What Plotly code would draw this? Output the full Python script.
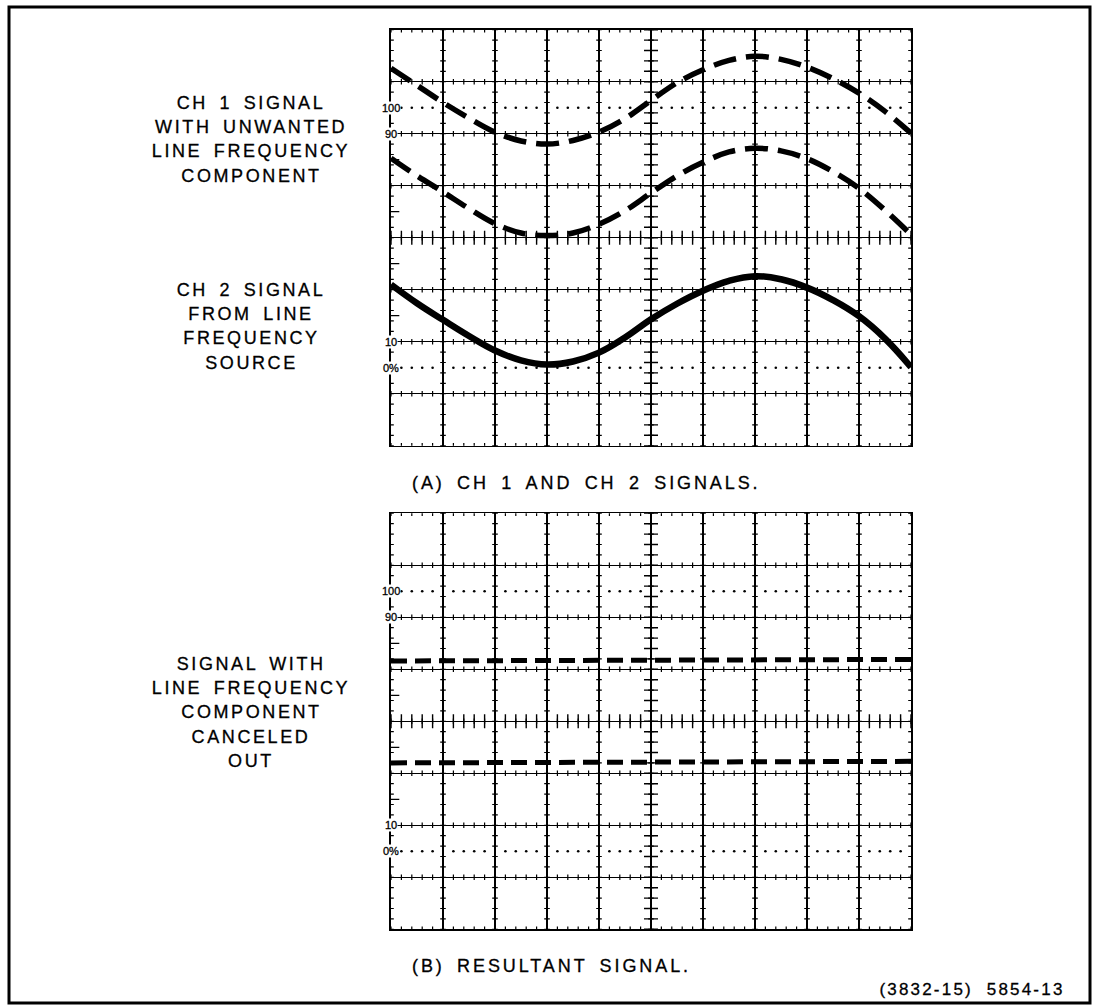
import numpy as np
import plotly.graph_objects as go

# ---------------- data (graticule divisions) ----------------
x_div = [0, 0.5, 1, 1.5, 2, 2.5, 3, 3.5, 4, 4.5, 5, 5.5, 6, 6.5, 7, 7.5, 8, 8.5, 9, 9.5, 10]
ch1_top = [7.26, 6.93, 6.60, 6.30, 6.03, 5.86, 5.80, 5.87, 6.03, 6.29, 6.64, 6.98, 7.23, 7.41, 7.49,
           7.43, 7.28, 7.06, 6.78, 6.43, 6.01]
ch1_bottom = [5.53, 5.19, 4.88, 4.56, 4.27, 4.09, 4.04, 4.09, 4.26, 4.52, 4.86, 5.19, 5.45, 5.65, 5.72,
              5.67, 5.52, 5.27, 4.95, 4.53, 4.06]
ch2 = [3.10, 2.74, 2.42, 2.11, 1.83, 1.64, 1.56, 1.62, 1.79, 2.08, 2.43, 2.73, 2.98, 3.17, 3.26,
       3.20, 3.04, 2.80, 2.49, 2.06, 1.51]
res_x = [0, 10]
res_top = [5.16, 5.19]
res_bottom = [3.20, 3.23]

ref_labels = ["100", "90", "10", "0%"]
ref_levels = [6.5, 6.0, 2.0, 1.5]

text_a = ["CH 1 SIGNAL", "WITH UNWANTED", "LINE FREQUENCY", "COMPONENT"]
text_b = ["CH 2 SIGNAL", "FROM LINE", "FREQUENCY", "SOURCE"]
text_c = ["SIGNAL WITH", "LINE FREQUENCY", "COMPONENT", "CANCELED", "OUT"]
caption_a = "(A) CH 1 AND CH 2 SIGNALS."
caption_b = "(B) RESULTANT SIGNAL."
footer = "(3832-15)  5854-13"

# ---------------- layout geometry ----------------
W, H = 1094, 1007
def px(v):
    return v / W
def py(v):
    return 1 - v / H

FONT = "Liberation Sans, Arial, sans-serif"
CAP_FONT = "Liberation Sans, Arial, Helvetica, sans-serif"
BIG = 18

fig = go.Figure()

def graticule(xa, ya):
    fine_x = np.round(np.arange(0, 10.001, 0.2), 2)
    fine_y = np.round(np.arange(0, 8.001, 0.2), 2)
    common = dict(xaxis=xa, yaxis=ya, hoverinfo="skip", showlegend=False)
    hx, hy = [], []
    for yy in range(0, 9):
        for xx in fine_x:
            hx.append(xx); hy.append(yy)
    fig.add_trace(go.Scatter(x=hx, y=hy, mode="markers",
                             marker=dict(symbol="line-ns", size=4, line=dict(width=1.2, color="black")),
                             **common))
    vx, vy = [], []
    for xx in range(0, 11):
        for yy in fine_y:
            vx.append(xx); vy.append(yy)
    fig.add_trace(go.Scatter(x=vx, y=vy, mode="markers",
                             marker=dict(symbol="line-ew", size=4, line=dict(width=1.2, color="black")),
                             **common))
    fig.add_trace(go.Scatter(x=[5] * len(fine_y), y=list(fine_y), mode="markers",
                             marker=dict(symbol="line-ew", size=10, line=dict(width=1.4, color="black")),
                             **common))
    fig.add_trace(go.Scatter(x=list(fine_x), y=[4] * len(fine_x), mode="markers",
                             marker=dict(symbol="line-ns", size=10, line=dict(width=1.4, color="black")),
                             **common))
    dx, dy = [], []
    for lev in (6.5, 1.5):
        for k in range(10):
            for f in (0.2, 0.4, 0.6, 0.8):
                dx.append(k + f); dy.append(lev)
    fig.add_trace(go.Scatter(x=dx, y=dy, mode="markers",
                             marker=dict(symbol="circle", size=2.6, color="black"), **common))
    tx, ty = [], []
    for lev in (2.5, 3.5, 4.5, 5.5):
        tx += [0, 0.16, None]; ty += [lev, lev, None]
    fig.add_trace(go.Scatter(x=tx, y=ty, mode="lines", line=dict(color="black", width=1.3), **common))

graticule("x", "y")
graticule("x2", "y2")

# ---------------- signals ----------------
fig.add_trace(go.Scatter(x=x_div, y=ch1_top, mode="lines",
                         line=dict(color="black", width=5.5, dash="23px,10px", shape="spline", smoothing=1),
                         xaxis="x", yaxis="y", showlegend=False, name="CH 1 top"))
fig.add_trace(go.Scatter(x=x_div, y=ch1_bottom, mode="lines",
                         line=dict(color="black", width=5.5, dash="23px,10px", shape="spline", smoothing=1),
                         xaxis="x", yaxis="y", showlegend=False, name="CH 1 bottom"))
fig.add_trace(go.Scatter(x=x_div, y=ch2, mode="lines",
                         line=dict(color="black", width=6.5, shape="spline", smoothing=1.2),
                         xaxis="x", yaxis="y", showlegend=False, name="CH 2"))
fig.add_trace(go.Scatter(x=res_x, y=res_top, mode="lines", line=dict(color="black", width=5, dash="16px,8px"),
                         xaxis="x2", yaxis="y2", showlegend=False, name="Result top"))
fig.add_trace(go.Scatter(x=res_x, y=res_bottom, mode="lines", line=dict(color="black", width=5, dash="16px,8px"),
                         xaxis="x2", yaxis="y2", showlegend=False, name="Result bottom"))

# ---------------- axes ----------------
ax_common = dict(showgrid=True, gridcolor="black", gridwidth=1.3, zeroline=False, showticklabels=False,
                 ticks="", showline=True, linecolor="black", linewidth=1.6, mirror=True, fixedrange=True)
xdom = [px(391), px(911)]
fig.update_layout(
    xaxis=dict(domain=xdom, range=[0, 10], dtick=1, tick0=0, anchor="y", **ax_common),
    yaxis=dict(domain=[py(445.7), py(29.7)], range=[0, 8], dtick=1, tick0=0, anchor="x", **ax_common),
    xaxis2=dict(domain=xdom, range=[0, 10], dtick=1, tick0=0, anchor="y2", **ax_common),
    yaxis2=dict(domain=[py(929.3), py(513.3)], range=[0, 8], dtick=1, tick0=0, anchor="x2", **ax_common),
)

# ---------------- text ----------------
ann = []
def add_lines(lines, cx, y0, step=24.2):
    for i, t in enumerate(lines):
        ann.append(dict(text=t, x=px(cx), y=py(y0 + i * step), xref="paper", yref="paper",
                        xanchor="center", yanchor="middle", showarrow=False,
                        font=dict(family=FONT, size=BIG, color="black")))

add_lines(text_a, 251, 103)
add_lines(text_b, 251, 290)
add_lines(text_c, 251, 664)
ann.append(dict(text=caption_a, x=px(410), y=py(483), xref="paper", yref="paper", xanchor="left",
                yanchor="middle", align="left", showarrow=False, font=dict(family=CAP_FONT, size=BIG, color="black")))
ann.append(dict(text=caption_b, x=px(410), y=py(966), xref="paper", yref="paper", xanchor="left",
                yanchor="middle", align="left", showarrow=False, font=dict(family=CAP_FONT, size=BIG, color="black")))
ann.append(dict(text=footer, x=px(1067), y=py(989), xref="paper", yref="paper", xanchor="right",
                yanchor="middle", align="right", showarrow=False, font=dict(family=FONT, size=17, color="black")))

for xa, ya in (("x", "y"), ("x2", "y2")):
    for lab, lev in zip(ref_labels, ref_levels):
        ann.append(dict(text=lab, x=0, y=lev, xref=xa, yref=ya, xanchor="center", yanchor="middle",
                        showarrow=False, bgcolor="white", borderpad=0,
                        font=dict(family=FONT, size=11, color="black")))

fig.update_layout(
    annotations=ann,
    shapes=[dict(type="rect", xref="paper", yref="paper", x0=px(9), x1=px(1090), y0=py(1003), y1=py(7),
                 line=dict(color="black", width=3), fillcolor="rgba(0,0,0,0)")],
    width=W, height=H, autosize=False,
    margin=dict(l=0, r=0, t=0, b=0, pad=0),
    paper_bgcolor="white", plot_bgcolor="white",
    showlegend=False,
)

post = """
document.body.style.margin='0';
var st=document.createElement('style');
st.textContent='text.annotation-text{stroke:#000;stroke-width:0.3px;}'
 + 'text.annotation-text[style*="font-size: 18px"]{letter-spacing:2.6px;word-spacing:4px;}'
 + 'text.annotation-text[style*="Helvetica"]{letter-spacing:2.9px;word-spacing:4.5px;}'
 + 'text.annotation-text[style*="font-size: 17px"]{letter-spacing:2.2px;}';
document.head.appendChild(st);
"""
fig.write_html("out.html", post_script=post, config={"displayModeBar": False, "staticPlot": True})
